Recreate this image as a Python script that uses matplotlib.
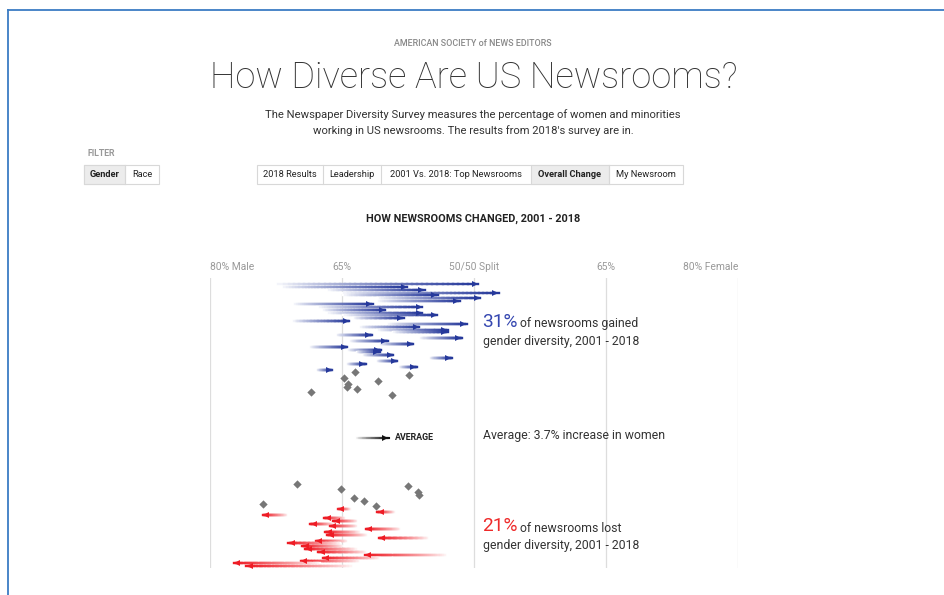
import matplotlib
matplotlib.use("Agg")
import matplotlib.pyplot as plt
import numpy as np
from matplotlib.collections import LineCollection
from matplotlib.patches import Rectangle

# ── DATA (share of women in newsroom, %) ──────────────────────────────────────
gain_2001 = [27.2, 28.0, 33.3, 34.8, 35.1, 39.0, 39.0, 29.4, 32.2, 32.8, 33.3,
             35.1, 36.3, 29.4, 40.1, 37.0, 39.0, 40.8, 34.4, 43.9, 35.9, 39.3,
             31.4, 35.7, 36.7, 37.4, 45.0, 39.0, 35.6, 41.6, 32.2]
gain_2018 = [50.5, 42.4, 44.4, 52.8, 45.9, 50.7, 48.4, 38.5, 44.1, 39.9, 44.1,
             45.8, 42.0, 35.8, 49.2, 43.8, 47.0, 47.0, 38.4, 48.6, 40.2, 43.1,
             35.6, 39.4, 39.3, 40.8, 47.5, 41.3, 37.7, 43.5, 33.9]
steady_top = [36.5, 42.6, 35.2, 39.1, 35.7, 35.6, 36.7, 31.5, 40.7]
steady_bottom = [29.9, 42.5, 34.9, 43.6, 43.75, 36.4, 37.5, 26.0, 38.9]
loss_2001 = [35.9, 40.9, 28.75, 35.3, 36.7, 34.0, 36.7, 41.6, 37.0, 37.8, 44.8,
             35.6, 34.8, 35.1, 36.7, 37.8, 46.9, 39.3, 37.0, 32.5, 36.3]
loss_2018 = [34.5, 39.0, 26.0, 33.0, 34.0, 31.4, 33.6, 37.7, 33.1, 33.3, 39.2,
             32.0, 28.9, 30.5, 30.8, 32.3, 37.6, 32.8, 30.3, 22.7, 24.1]
avg_2001, avg_2018 = 36.6, 40.3

tick_pos = [20, 35, 50, 65, 80]
tick_labels = ["80% Male", "65%", "50/50 Split", "65%", "80% Female"]

# ── STYLE ─────────────────────────────────────────────────────────────────────
BLUE = "#26399b"
RED = "#ee1c25"
GRAY = "#777777"
TXT = "#333333"
plt.rcParams["font.family"] = ["Roboto", "DejaVu Sans"]

W, H = 944, 595
fig = plt.figure(figsize=(W / 100, H / 100), dpi=100)


def fx(x):
    return x / W


def fy(y):
    return 1 - y / H


# frame of the screenshot
fig.add_artist(plt.Line2D([fx(8), 1], [fy(10), fy(10)], color="#3b7cc4", lw=1.3))
fig.add_artist(plt.Line2D([fx(8), fx(8)], [fy(10), 0], color="#3b7cc4", lw=1.3))

# ── HEADER ────────────────────────────────────────────────────────────────────
fig.text(fx(473), fy(43), "AMERICAN SOCIETY of NEWS EDITORS", ha="center",
         va="center", fontsize=6.4, color="#888888", fontweight="medium")
fig.text(fx(474), fy(78), "How Diverse Are US Newsrooms?", ha="center",
         va="center", fontsize=26.1, color="#333333", fontweight="light")
fig.text(fx(473), fy(115), "The Newspaper Diversity Survey measures the percentage of women and minorities",
         ha="center", va="center", fontsize=8.1, color=TXT)
fig.text(fx(473), fy(131), "working in US newsrooms. The results from 2018's survey are in.",
         ha="center", va="center", fontsize=8.1, color=TXT)
fig.text(fx(88), fy(154), "FILTER", ha="left", va="center", fontsize=6.3,
         color="#999999", fontweight="bold")


def button_group(edges, labels, active):
    y0, y1 = 165, 184
    fig.add_artist(Rectangle((fx(edges[0]), fy(y1)), fx(edges[-1] - edges[0]),
                             fy(y0) - fy(y1), transform=fig.transFigure,
                             facecolor="white", edgecolor="#d8d8d8", lw=0.8))
    for i, lab in enumerate(labels):
        a, b = edges[i], edges[i + 1]
        if i == active:
            fig.add_artist(Rectangle((fx(a), fy(y1)), fx(b - a), fy(y0) - fy(y1),
                                     transform=fig.transFigure, facecolor="#ececec",
                                     edgecolor="#d8d8d8", lw=0.8))
        elif i > 0:
            fig.add_artist(plt.Line2D([fx(a), fx(a)], [fy(y0), fy(y1)],
                                      color="#d8d8d8", lw=0.8))
        fig.text(fx((a + b) / 2), fy(174.5), lab, ha="center", va="center",
                 fontsize=6.7, color="#222222",
                 fontweight="bold" if i == active else "normal")


button_group([84, 125, 159], ["Gender", "Race"], 0)
button_group([257, 323, 381, 531, 609, 683],
             ["2018 Results", "Leadership", "2001 Vs. 2018: Top Newsrooms",
              "Overall Change", "My Newsroom"], 3)

fig.text(fx(473), fy(219), "HOW NEWSROOMS CHANGED, 2001 - 2018", ha="center",
         va="center", fontsize=7.8, color="#222222", fontweight="bold")

# ── CHART ─────────────────────────────────────────────────────────────────────
ax = fig.add_axes([fx(210), fy(568), fx(528), fy(278) - fy(568)])
ax.set_xlim(20, 80)
ax.set_ylim(99.6, -2.1)
ax.axis("off")
for t in tick_pos:
    ax.axvline(t, color="#dddddd", lw=0.9, zorder=0)
for t, lab in zip(tick_pos, tick_labels):
    ha = "left" if t == 20 else ("right" if t == 80 else "center")
    ax.text(t, -5.8, lab, ha=ha, va="center", fontsize=7.4, color="#999999")


def fading_arrow(x0, x1, y, color, n=40, lw=1.7):
    # tail fades into the white page: colour blended toward white, kept opaque
    xs = np.linspace(x0, x1, n + 1)
    segs = [[(xs[i], y), (xs[i + 1], y)] for i in range(n)]
    base = np.array(matplotlib.colors.to_rgb(color))
    k = (np.linspace(0, 1, n) ** 0.8)[:, None]
    rgb = 1 - k * (1 - base)
    ax.add_collection(LineCollection(segs, colors=rgb, linewidths=lw,
                                     capstyle="projecting", zorder=2))
    d = 1 if x1 > x0 else -1
    ax.plot([x1 - d * 0.4], [y], marker=">" if d > 0 else "<", ms=5.0,
            color=color, mec=color, mew=0, zorder=3)


rows_gain = np.arange(len(gain_2001))
for y, a, b in zip(rows_gain, gain_2001, gain_2018):
    fading_arrow(a, b, y, BLUE)
rows_top = np.arange(len(steady_top)) + len(gain_2001)
ax.scatter(steady_top, rows_top, marker="D", s=18, color=GRAY, lw=0, zorder=3)

rows_bottom = np.arange(len(steady_bottom)) + 70
ax.scatter(steady_bottom, rows_bottom, marker="D", s=18, color=GRAY, lw=0, zorder=3)
rows_loss = np.arange(len(loss_2001)) + 70 + len(steady_bottom)
for y, a, b in zip(rows_loss, loss_2001, loss_2018):
    fading_arrow(a, b, y, RED)

fading_arrow(avg_2001, avg_2018, 54, "#111111", lw=1.5)
ax.text(avg_2018 + 0.7, 54, "AVERAGE", ha="left", va="center", fontsize=6.4,
        color="#222222", fontweight="bold")

# ── ANNOTATIONS ───────────────────────────────────────────────────────────────
fig.text(fx(482), fy(322), "31%", ha="left", va="center", fontsize=13.8, color="#3446b0")
fig.text(fx(520), fy(324), "of newsrooms gained", ha="left", va="center", fontsize=8.8, color=TXT)
fig.text(fx(483), fy(341), "gender diversity, 2001 - 2018", ha="left", va="center", fontsize=8.8, color=TXT)
fig.text(fx(483), fy(435), "Average: 3.7% increase in women", ha="left", va="center", fontsize=8.8, color=TXT)
fig.text(fx(482), fy(526), "21%", ha="left", va="center", fontsize=13.8, color="#ee2a2a")
fig.text(fx(520), fy(528), "of newsrooms lost", ha="left", va="center", fontsize=8.8, color=TXT)
fig.text(fx(483), fy(545), "gender diversity, 2001 - 2018", ha="left", va="center", fontsize=8.8, color=TXT)

fig.savefig("out.png", dpi=100)
